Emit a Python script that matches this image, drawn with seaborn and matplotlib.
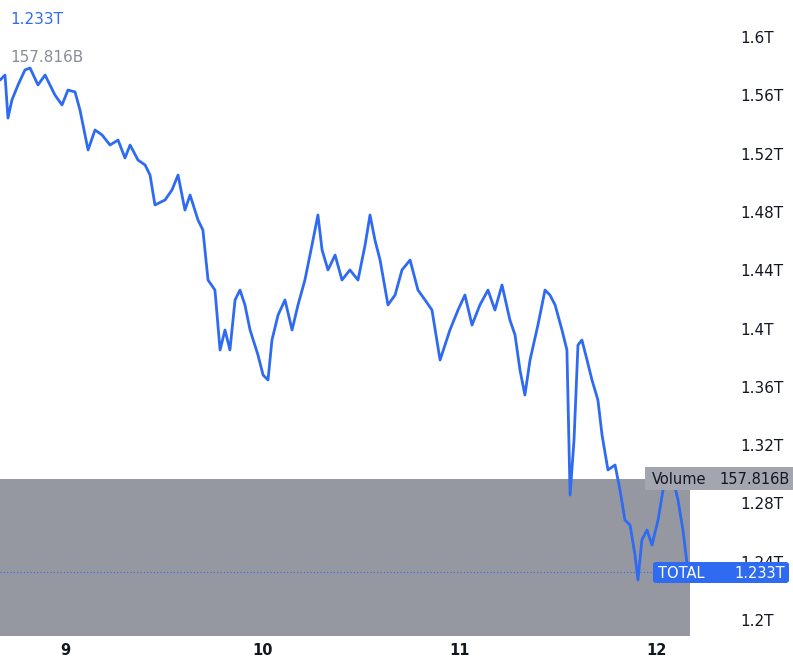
import numpy as np
import pandas as pd
import seaborn as sns
import matplotlib.pyplot as plt
from matplotlib.patches import FancyBboxPatch, Rectangle

days = [8.671, 8.696, 8.711, 8.731, 8.762, 8.797, 8.823, 8.863, 8.899, 8.949, 8.985, 9.015, 9.051, 9.076,
        9.117, 9.152, 9.188, 9.228, 9.269, 9.304, 9.330, 9.370, 9.406, 9.431, 9.456, 9.507, 9.542, 9.573,
        9.608, 9.634, 9.674, 9.699, 9.725, 9.760, 9.786, 9.811, 9.836, 9.862, 9.887, 9.912, 9.938, 9.978,
        10.004, 10.029, 10.049, 10.080, 10.115, 10.151, 10.181, 10.216, 10.252, 10.282, 10.303, 10.333,
        10.369, 10.404, 10.444, 10.485, 10.521, 10.546, 10.571, 10.597, 10.637, 10.673, 10.708, 10.749,
        10.789, 10.825, 10.860, 10.901, 10.926, 10.951, 10.992, 11.027, 11.063, 11.103, 11.144, 11.179,
        11.215, 11.255, 11.281, 11.306, 11.331, 11.357, 11.397, 11.433, 11.458, 11.484, 11.519, 11.544,
        11.560, 11.580, 11.600, 11.620, 11.646, 11.671, 11.701, 11.722, 11.752, 11.788, 11.813, 11.838,
        11.864, 11.889, 11.904, 11.924, 11.950, 11.975, 12.006, 12.031, 12.056, 12.077, 12.107, 12.132,
        12.158]
total = [1.5705, 1.5739, 1.5444, 1.5568, 1.5671, 1.5774, 1.5787, 1.5671, 1.5739, 1.5602, 1.5534, 1.5636,
         1.5623, 1.5499, 1.5225, 1.5362, 1.5328, 1.5259, 1.5293, 1.5170, 1.5259, 1.5156, 1.5122, 1.5053,
         1.4848, 1.4882, 1.4950, 1.5053, 1.4813, 1.4916, 1.4745, 1.4676, 1.4333, 1.4264, 1.3853, 1.3990,
         1.3853, 1.4196, 1.4264, 1.4162, 1.3990, 1.3819, 1.3681, 1.3647, 1.3921, 1.4093, 1.4196, 1.3990,
         1.4162, 1.4333, 1.4573, 1.4779, 1.4539, 1.4402, 1.4504, 1.4333, 1.4402, 1.4333, 1.4573, 1.4779,
         1.4607, 1.4470, 1.4162, 1.4230, 1.4402, 1.4470, 1.4264, 1.4196, 1.4127, 1.3784, 1.3887, 1.3990,
         1.4127, 1.4230, 1.4024, 1.4162, 1.4264, 1.4127, 1.4299, 1.4059, 1.3956, 1.3716, 1.3544, 1.3784,
         1.4024, 1.4264, 1.4230, 1.4162, 1.3990, 1.3853, 1.2858, 1.3235, 1.3887, 1.3921, 1.3784, 1.3647,
         1.3510, 1.3270, 1.3030, 1.3064, 1.2892, 1.2687, 1.2652, 1.2447, 1.2275, 1.2550, 1.2618, 1.2515,
         1.2687, 1.2892, 1.3030, 1.2995, 1.2824, 1.2618, 1.233]
volume_b = 157.816
last_total = 1.233
y_ticks = [1.2, 1.24, 1.28, 1.32, 1.36, 1.4, 1.44, 1.48, 1.52, 1.56, 1.6]
x_ticks = [9, 10, 11, 12]

df = pd.DataFrame({'day': days, 'total': total})
blue = '#2f6bf0'
gray = '#9598a1'

sns.set_style('white')
fig = plt.figure(figsize=(7.93, 6.64), dpi=100)
ax = fig.add_axes([0, 28 / 664, 715 / 793, 636 / 664])
ax2 = ax.twinx()

ax2.bar(days[0] - 0.01, volume_b, width=days[-1] - days[0] + 0.02, align='edge', color=gray, linewidth=0)
ax2.set_ylim(0, volume_b * 636 / 157)
ax2.axis('off')

ax.set_zorder(ax2.get_zorder() + 1)
ax.patch.set_visible(False)
sns.lineplot(data=df, x='day', y='total', color=blue, linewidth=2, ax=ax)
ax.axhline(last_total, color=blue, linestyle=(0, (1, 2)), linewidth=0.8)

ax.set_xlim(8.6706, 8.6706 + 715 / 197.3)
ax.set_ylim(1.6 - 599 * 0.000686, 1.6 + 37 * 0.000686)
for s in ax.spines.values():
    s.set_visible(False)
ax.set_xlabel('')
ax.set_ylabel('')
ax.set_xticks(x_ticks)
ax.set_xticklabels([str(t) for t in x_ticks], fontsize=10.5, color='#131722', fontweight='bold')
ax.tick_params(axis='x', length=0, pad=5)
ax.yaxis.tick_right()
ax.set_yticks(y_ticks)
ax.set_yticklabels([f'{t:g}T' for t in y_ticks], fontsize=11, color='#131722')
ax.tick_params(axis='y', length=0, pad=18)

ax.annotate(f'{last_total:.3f}T', xy=(10, 644), xycoords='figure pixels', color=blue, fontsize=11, va='center')
ax.annotate(f'{volume_b:.3f}B', xy=(10, 607), xycoords='figure pixels', color='#8a8d96', fontsize=11, va='center')

W, H = 793, 664
fig.patches.append(Rectangle((645 / W, 1 - 490 / H), 148 / W, 23 / H, transform=fig.transFigure,
                             fc='#a3a6ae', ec='none', zorder=5))
fig.text(652 / W, 1 - 479 / H, 'Volume', fontsize=10.5, color='#131722', va='center', zorder=6)
fig.text(790 / W, 1 - 479 / H, f'{volume_b:.3f}B', fontsize=10.5, color='#131722', va='center', ha='right', zorder=6)
fig.patches.append(FancyBboxPatch((653 / W, 1 - 583 / H), 136 / W, 21 / H, transform=fig.transFigure,
                                  boxstyle='round,pad=0,rounding_size=0.004', fc=blue, ec='none', zorder=5))
fig.text(658 / W, 1 - 573 / H, 'TOTAL', fontsize=10.5, color='white', va='center', zorder=6)
fig.text(785 / W, 1 - 573 / H, f'{last_total:.3f}T', fontsize=10.5, color='white', va='center', ha='right', zorder=6)

fig.savefig('out.png', dpi=100)
